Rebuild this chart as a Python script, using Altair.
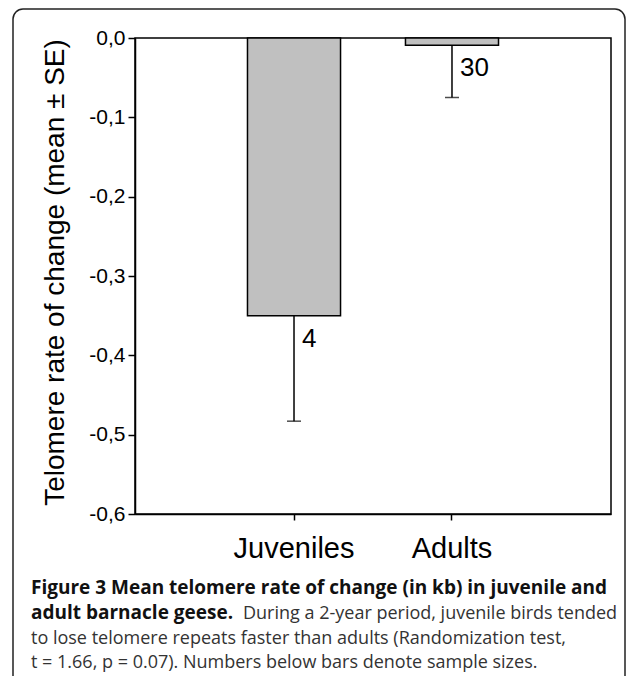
import altair as alt
import pandas as pd

# ---- data ----
groups = ["Juveniles", "Adults"]
means = [-0.350, -0.009]
ses = [0.133, 0.066]
ns = ["4", "30"]

y_ticks = [0.0, -0.1, -0.2, -0.3, -0.4, -0.5, -0.6]

y_title = "Telomere rate of change (mean ± SE)"
cap_bold_1 = "Figure 3 Mean telomere rate of change (in kb) in juvenile and"
cap_bold_2 = "adult barnacle geese."
cap_reg_2 = "During a 2-year period, juvenile birds tended"
cap_reg_3 = "to lose telomere repeats faster than adults (Randomization test,"
cap_reg_4 = "t = 1.66, p = 0.07). Numbers below bars denote sample sizes."

df = pd.DataFrame({"group": groups, "mean": means, "se": ses, "n": ns})
df["low"] = df["mean"] - df["se"]

W = H = 476
AX_FONT = "Liberation Sans"
CAP_FONT = "Open Sans"

xenc = alt.X(
    "group:N", sort=groups, title=None,
    scale=alt.Scale(paddingInner=0.411, paddingOuter=0.712),
    axis=alt.Axis(labelFontSize=29, labelAngle=0, tickSize=6, labelPadding=14),
)

yaxis = alt.Axis(
    values=y_ticks,
    labelExpr="(datum.value < 0 ? '-' : '') + replace(format(abs(datum.value), '.1f'), '.', ',')",
    labelFontSize=21, tickSize=7, labelPadding=3,
    title=y_title, titleFontSize=28, titleFontWeight="normal",
    titleAngle=270, titleX=-72, titleY=234, titleBaseline="alphabetic", titleAlign="center",
)
yscale = alt.Scale(domain=[-0.6, 0], nice=False)

base = alt.Chart(df)

bars = base.mark_bar(fill="#c0c0c0", stroke="black", strokeWidth=1.5).encode(
    x=xenc, y=alt.Y("mean:Q", scale=yscale, axis=yaxis)
)
rules = base.mark_rule(color="black", strokeWidth=1.5).encode(
    x=xenc, y=alt.Y("mean:Q", scale=yscale, axis=yaxis), y2="low:Q"
)
caps = base.mark_tick(color="black", thickness=1.5, size=14).encode(
    x=xenc, y=alt.Y("low:Q", scale=yscale, axis=yaxis)
)
counts = base.mark_text(
    align="left", baseline="middle", dx=8, dy=23, fontSize=26, font=AX_FONT, color="black"
).encode(x=xenc, y=alt.Y("mean:Q", scale=yscale, axis=yaxis), text="n:N")

one = pd.DataFrame({"a": [0]})

frame = alt.Chart(one).mark_rect(
    cornerRadius=10, fillOpacity=0, stroke="#222", strokeWidth=1.5
).encode(x=alt.value(-122), x2=alt.value(490), y=alt.value(-29), y2=alt.value(720))


def cap(text, x, y, bold):
    return alt.Chart(one).mark_text(
        text=text, align="left", baseline="alphabetic", font=CAP_FONT,
        fontSize=19 if bold else 18,
        fontWeight="bold" if bold else "normal", color="#111" if bold else "#333",
    ).encode(x=alt.value(x), y=alt.value(y))


captions = [
    cap(cap_bold_1, -104, 556, True),
    cap(cap_bold_2, -104, 581, True),
    cap(cap_reg_2, 108, 581, False),
    cap(cap_reg_3, -104, 606, False),
    cap(cap_reg_4, -104, 630, False),
]

chart = alt.layer(frame, bars, rules, caps, counts, *captions).properties(
    width=W, height=H,
    autosize=alt.AutoSizeParams(type="none"),
    padding={"left": 127, "top": 30, "right": 16, "bottom": 162},
).configure_view(
    stroke="black", strokeWidth=1.5
).configure_axis(
    domainColor="black", domainWidth=1.5, tickColor="black", tickWidth=1.5,
    labelColor="black", titleColor="black", grid=False,
    labelFont=AX_FONT, titleFont=AX_FONT,
)

chart.save("out.html", embed_options={"renderer": "svg", "actions": False})
